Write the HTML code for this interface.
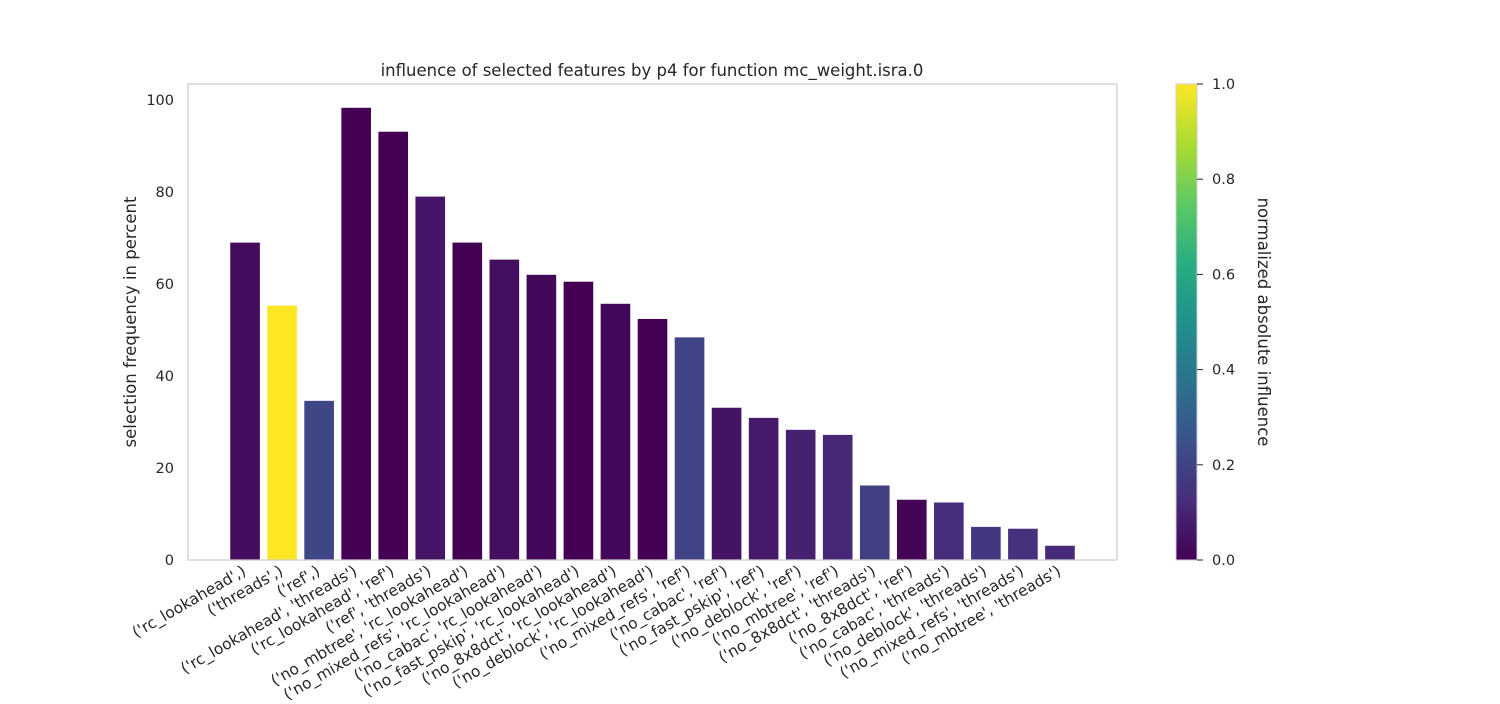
<!DOCTYPE html>
<html><head><meta charset="utf-8">
<style>
body{margin:0;background:#fff;width:1500px;height:700px;overflow:hidden;font-family:"DejaVu Sans","Liberation Sans",sans-serif;}
svg text{font-family:"DejaVu Sans","Liberation Sans",sans-serif;fill:#262626;}
</style></head>
<body>
<svg id="chart" width="1500" height="700" xmlns="http://www.w3.org/2000/svg">
<defs>
<linearGradient id="vir" x1="0" y1="1" x2="0" y2="0">
<stop offset="0" stop-color="#440154"/><stop offset="0.125" stop-color="#472d7b"/>
<stop offset="0.25" stop-color="#3b528b"/><stop offset="0.375" stop-color="#2c728e"/>
<stop offset="0.5" stop-color="#21918c"/><stop offset="0.625" stop-color="#28ae80"/>
<stop offset="0.75" stop-color="#5ec962"/><stop offset="0.875" stop-color="#addc30"/>
<stop offset="1" stop-color="#fde725"/>
</linearGradient>
</defs>
<text x="652" y="76" text-anchor="middle" font-size="16.5">influence of selected features by p4 for function mc_weight.isra.0</text>
<text transform="translate(136,322) rotate(-90)" text-anchor="middle" font-size="16.5">selection frequency in percent</text>
<g id="yticks"></g>
<g id="bars"></g>
<g id="xticks"></g>
<rect x="188" y="84" width="929" height="476" fill="none" stroke="#cccccc" stroke-width="1.25"/>
<rect x="1176" y="84" width="21" height="476" fill="url(#vir)" stroke="#cccccc" stroke-width="1"/>
<g id="cbticks"></g>
<text transform="translate(1258,322) rotate(90)" text-anchor="middle" font-size="16.5">normalized absolute influence</text>
</svg>
<script>
const categories=["('rc_lookahead',)","('threads',)","('ref',)","('rc_lookahead', 'threads')","('rc_lookahead', 'ref')","('ref', 'threads')","('no_mbtree', 'rc_lookahead')","('no_mixed_refs', 'rc_lookahead')","('no_cabac', 'rc_lookahead')","('no_fast_pskip', 'rc_lookahead')","('no_8x8dct', 'rc_lookahead')","('no_deblock', 'rc_lookahead')","('no_mixed_refs', 'ref')","('no_cabac', 'ref')","('no_fast_pskip', 'ref')","('no_deblock', 'ref')","('no_mbtree', 'ref')","('no_8x8dct', 'threads')","('no_8x8dct', 'ref')","('no_cabac', 'threads')","('no_deblock', 'threads')","('no_mixed_refs', 'threads')","('no_mbtree', 'threads')"];
const frequency=[69,55.3,34.6,98.3,93.1,79,69,65.3,62,60.5,55.7,52.4,48.4,33.1,30.9,28.3,27.2,16.2,13.1,12.5,7.2,6.8,3.1];
const influence=[0.03,1.0,0.21,0.0,0.0,0.06,0.0,0.04,0.02,0.0,0.02,0.0,0.2,0.05,0.07,0.09,0.11,0.19,0.01,0.13,0.16,0.14,0.12];
const yTicks=[0,20,40,60,80,100];
const cbTicks=[0,0.2,0.4,0.6,0.8,1.0];
const NS="http://www.w3.org/2000/svg";
const px0=188,pw=929,py0=84,ph=476;
const xmin=-1.54,xmax=categories.length-1+1.54;
function xs(i){return px0+(i-xmin)/(xmax-xmin)*pw;}
function ys(v){return 560-v*4.6;}
const stops=[[68,1,84],[71,45,123],[59,82,139],[44,114,142],[33,145,140],[40,174,128],[94,201,98],[173,220,48],[253,231,37]];
function vir(t){t=Math.max(0,Math.min(1,t))*8;const i=Math.min(7,Math.floor(t)),f=t-i;const a=stops[i],b=stops[i+1];
return `rgb(${a.map((c,k)=>Math.round(c+(b[k]-c)*f)).join(',')})`;}
function mk(tag,attrs,parent){const e=document.createElementNS(NS,tag);for(const k in attrs)e.setAttribute(k,attrs[k]);parent.appendChild(e);return e;}
const bw=(xs(1)-xs(0))*0.8;
const gb=document.getElementById('bars'),gx=document.getElementById('xticks'),gy=document.getElementById('yticks'),gc=document.getElementById('cbticks');
categories.forEach((c,i)=>{
 const r=mk('rect',{x:xs(i)-bw/2,y:ys(frequency[i]),width:bw,height:560-ys(frequency[i]),fill:vir(influence[i])},gb);
 
 
 const t=mk('text',{transform:`translate(${xs(i)+2},${574}) rotate(-30)`,'text-anchor':'end','font-size':'15.5'},gx);
 t.textContent=c;
 
 
});
yTicks.forEach(v=>{
 const t=mk('text',{x:174,y:ys(v)+5,'text-anchor':'end','font-size':'14.5'},gy);
 t.textContent=v;
 
 
});
cbTicks.forEach(v=>{
 const y=560-v*476;
 const l=mk('line',{x1:1197,x2:1203,y1:y,y2:y,stroke:'#262626','stroke-width':1},gc);
 
 
 const t=mk('text',{x:1212,y:y+5,'font-size':'14.5'},gc);
 t.textContent=v.toFixed(1);
 
 
});
</script>
</body></html>
